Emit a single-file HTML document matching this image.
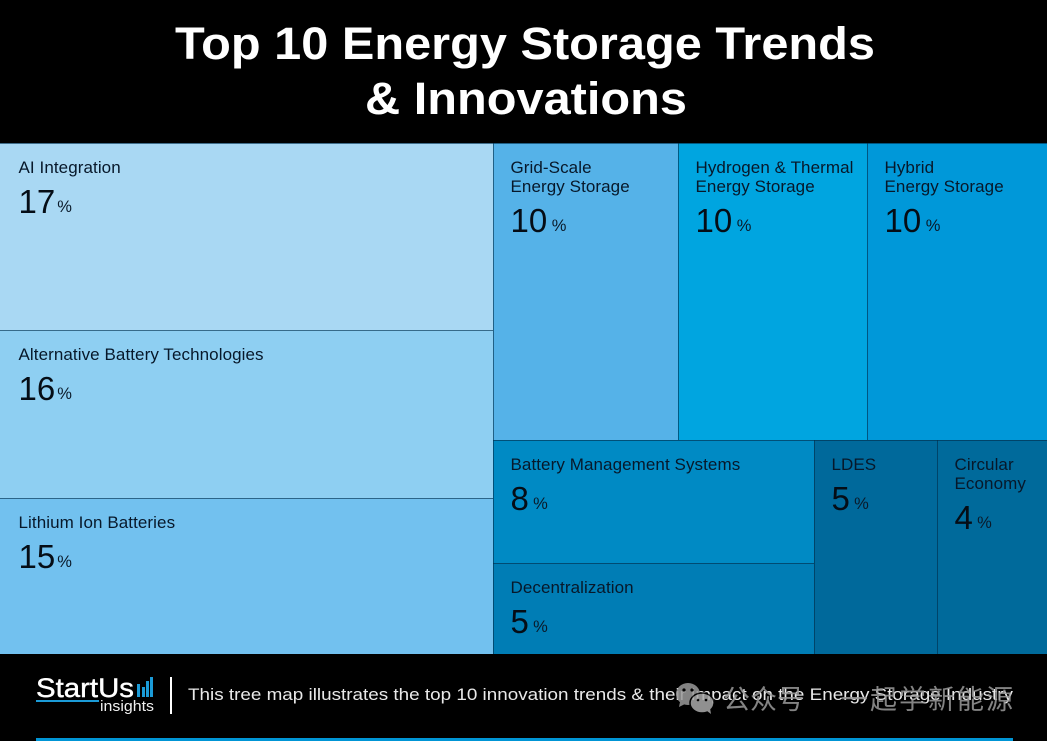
<!DOCTYPE html>
<html lang="en">
<head>
<meta charset="utf-8">
<title>Top 10 Energy Storage Trends &amp; Innovations</title>
<style>
html,body{margin:0;padding:0;background:#000;width:1047px;height:741px;overflow:hidden}
svg{display:block}
text{font-family:"Liberation Sans","Noto Sans CJK SC",sans-serif}
</style>
</head>
<body>
<svg id="chart" xmlns="http://www.w3.org/2000/svg" width="1047" height="741" viewBox="0 0 1047 741">
  <rect x="0" y="0" width="1047" height="741" fill="#000"/>
  <g fill="#fff" font-weight="700" font-size="45.5">
    <text x="175" y="59" textLength="700" lengthAdjust="spacingAndGlyphs">Top 10 Energy Storage Trends</text>
    <text x="365" y="114" textLength="322" lengthAdjust="spacingAndGlyphs">&amp; Innovations</text>
  </g>
  <g id="treemap"></g>
  <g>
    <text x="36" y="697" fill="#fff" stroke="#fff" stroke-width="0.4" font-size="26.5" textLength="98" lengthAdjust="spacingAndGlyphs">StartUs</text>
    <rect x="36" y="700" width="63" height="2" fill="#1b9bd7"/>
    <g fill="#1b9bd7">
      <rect x="137" y="684" width="3" height="13"/>
      <rect x="142" y="687" width="3" height="10"/>
      <rect x="146" y="681" width="3" height="16"/>
      <rect x="150" y="677" width="3" height="20"/>
    </g>
    <text x="100" y="711" fill="#f0f0f0" font-size="14.5" textLength="54" lengthAdjust="spacingAndGlyphs">insights</text>
  </g>
  <rect x="170" y="677" width="2" height="37" fill="#fff"/>
  <text x="188" y="700" fill="#e9e9e9" font-size="16.5" textLength="825" lengthAdjust="spacingAndGlyphs">This tree map illustrates the top 10 innovation trends &amp; their impact on the Energy Storage Industry</text>
  <g opacity="0.86">
    <g>
      <ellipse cx="688" cy="694" rx="12" ry="11" fill="#999"/>
      <path d="M680 702 L679 707 L685 704 Z" fill="#999"/>
      <ellipse cx="702" cy="703" rx="12" ry="10" fill="#a8a8a8" stroke="#000" stroke-width="1.5"/>
      <path d="M707 711 L711 714 L710 708 Z" fill="#a8a8a8"/>
      <circle cx="684" cy="690" r="1.6" fill="#000"/>
      <circle cx="692" cy="690" r="1.6" fill="#000"/>
      <circle cx="698" cy="700" r="1.3" fill="#000"/>
      <circle cx="706" cy="700" r="1.3" fill="#000"/>
    </g>
    <text x="723" y="709" fill="#999" font-size="27">公众号</text>
    <text x="841" y="709" fill="#999" font-size="27" textLength="172" lengthAdjust="spacing">一起学新能源</text>
  </g>
  <rect x="36" y="738" width="977" height="3" fill="#0095d5"/>
</svg>
<script>
var categories = [
  ["AI Integration"],
  ["Alternative Battery Technologies"],
  ["Lithium Ion Batteries"],
  ["Grid-Scale", "Energy Storage"],
  ["Hydrogen & Thermal", "Energy Storage"],
  ["Hybrid", "Energy Storage"],
  ["Battery Management Systems"],
  ["Decentralization"],
  ["LDES"],
  ["Circular", "Economy"]
];
var areaShares = [17.23, 15.48, 14.37, 10.27, 10.49, 9.99, 7.38, 5.46, 4.92, 4.40];
var printedPercents = [17, 16, 15, 10, 10, 10, 8, 5, 5, 4];
var cellColors = ["#a9d8f3", "#8ecff2", "#72c1ef", "#55b2e8", "#00a5e0", "#0098d9", "#008ac4", "#007db5", "#00699b", "#006a9b"];
var layoutTree = {dir: "h", kids: [
  {dir: "v", kids: [0, 1, 2]},
  {dir: "v", kids: [
    {dir: "h", kids: [3, 4, 5]},
    {dir: "h", kids: [{dir: "v", kids: [6, 7]}, 8, 9]}
  ]}
]};

var NS = "http://www.w3.org/2000/svg";
var plot = {x: 0, y: 143, w: 1047, h: 511};
var group = document.getElementById("treemap");
var seamColor = "rgba(0,45,75,0.62)";

function nodeTotal(node) {
  if (typeof node === "number") { return areaShares[node]; }
  return node.kids.reduce(function (sum, kid) { return sum + nodeTotal(kid); }, 0);
}
function slug(lines) {
  return lines.join("-").toLowerCase().replace(/[^a-z0-9]+/g, "-");
}
function addText(parent, x, y, size, str, fill) {
  var t = document.createElementNS(NS, "text");
  t.setAttribute("x", x);
  t.setAttribute("y", y);
  t.setAttribute("font-size", size);
  t.setAttribute("fill", fill);
  t.textContent = str;
  parent.appendChild(t);
  return t;
}
function addSeam(parent, x, y, w, h) {
  var s = document.createElementNS(NS, "rect");
  s.setAttribute("x", x);
  s.setAttribute("y", y);
  s.setAttribute("width", w);
  s.setAttribute("height", h);
  s.setAttribute("fill", seamColor);
  
  
  parent.appendChild(s);
}
function drawCell(i, x0, y0, x1, y1) {
  var g = document.createElementNS(NS, "g");
  
  
  var r = document.createElementNS(NS, "rect");
  r.setAttribute("x", x0);
  r.setAttribute("y", y0);
  r.setAttribute("width", x1 - x0);
  r.setAttribute("height", y1 - y0);
  r.setAttribute("fill", cellColors[i]);
  
  
  g.appendChild(r);
  addSeam(g, x0, y0, x1 - x0, 1);
  if (x0 > plot.x) { addSeam(g, x0, y0, 1, y1 - y0); }
  var tx = (x0 === plot.x ? x0 + 18.5 : x0 + 17.5);
  var ink = "#07182a";
  var by = y0 + 30;
  categories[i].forEach(function (line, k) {
    var lab = addText(g, tx, by + k * 19, 17, line, ink);
    lab.setAttribute("letter-spacing", "0.08");
    
    
  });
  var ny = by + (categories[i].length - 1) * 19 + 40;
  var numStr = String(printedPercents[i]);
  var num = addText(g, tx, ny, 33, numStr, "#050d16");
  
  
  var pct = addText(g, tx + numStr.length * 18.6 + (i < 3 ? 1.5 : 4), ny - 1, 16.5, "%", "#0a1a2a");
  
  
  group.appendChild(g);
}
function layout(node, x0, y0, x1, y1) {
  if (typeof node === "number") { drawCell(node, x0, y0, x1, y1); return; }
  var total = nodeTotal(node);
  var acc = 0;
  node.kids.forEach(function (kid) {
    var a = acc / total;
    acc += nodeTotal(kid);
    var b = acc / total;
    if (node.dir === "h") {
      layout(kid, Math.round(x0 + (x1 - x0) * a), y0, Math.round(x0 + (x1 - x0) * b), y1);
    } else {
      layout(kid, x0, Math.round(y0 + (y1 - y0) * a), x1, Math.round(y0 + (y1 - y0) * b));
    }
  });
}
layout(layoutTree, plot.x, plot.y, plot.x + plot.w, plot.y + plot.h);
</script>
</body>
</html>
